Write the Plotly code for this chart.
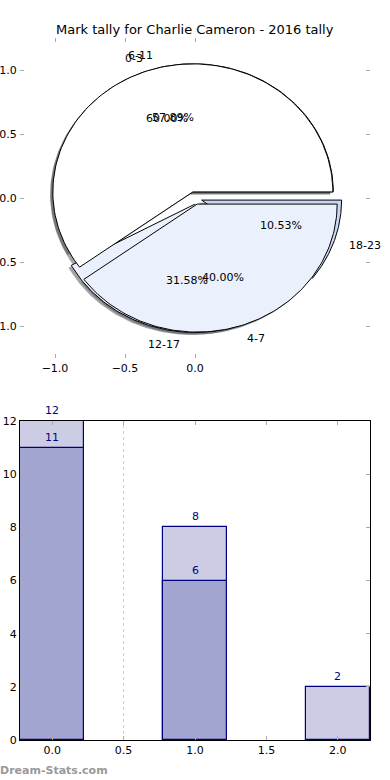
import numpy as np
import plotly.graph_objects as go

# ---------------- data ----------------
title_text = "Mark tally for Charlie Cameron - 2016 tally"
pie_a_labels = ["0-3", "4-7"]
pie_a_values = [12, 8]
pie_b_labels = ["6-11", "12-17", "18-23"]
pie_b_values = [11, 6, 2]
pie_a_colors = ["#ffffff", "#eaf0fc"]
pie_b_colors = ["#ffffff", "#eaf0fc", "#c8d8f4"]
explode = 0.05
pie_xticks = [-1.0, -0.5, 0.0]
pie_yticks = [-1.0, -0.5, 0.0, 0.5, 1.0]

bar_x = [0, 1, 2]
bar_light = [12, 8, 2]
bar_dark_x = [0, 1]
bar_dark = [11, 6]
bar_xticks = [0.0, 0.5, 1.0, 1.5, 2.0]
bar_yticks = [0, 2, 4, 6, 8, 10, 12]
ref_line_x = 0.5
watermark = "Dream-Stats.com"

W, H = 390, 780
FONT = "DejaVu Sans"


def hex_rgb(h):
    h = h.lstrip("#")
    return tuple(int(h[i:i + 2], 16) for i in (0, 2, 4))


def wedges(values):
    total = float(sum(values))
    out = []
    t = 0.0
    for v in values:
        frac = v / total
        t1, t2 = 360 * t, 360 * (t + frac)
        out.append((t1, t2, frac))
        t += frac
    return out


def wedge_poly(cx, cy, t1, t2, r=1.0):
    th = np.radians(np.linspace(t1, t2, 120))
    xs = np.concatenate([[cx], cx + r * np.cos(th), [cx]])
    ys = np.concatenate([[cy], cy + r * np.sin(th), [cy]])
    return xs, ys


fig = go.Figure()

pies = [(pie_b_values, pie_b_labels, pie_b_colors), (pie_a_values, pie_a_labels, pie_a_colors)]
geo = []
for vals, labs, cols in pies:
    for (t1, t2, frac), lab, col in zip(wedges(vals), labs, cols):
        tm = np.radians((t1 + t2) / 2)
        cx, cy = explode * np.cos(tm), explode * np.sin(tm)
        geo.append((cx, cy, t1, t2, tm, frac, lab, col))

# shadows first (below all wedges)
for cx, cy, t1, t2, tm, frac, lab, col in geo:
    xs, ys = wedge_poly(cx - 0.02, cy - 0.02, t1, t2)
    r, g, b = hex_rgb(col)
    fig.add_trace(go.Scatter(x=xs, y=ys, mode="lines", fill="toself",
                             fillcolor=f"rgba({int(0.3*r)},{int(0.3*g)},{int(0.3*b)},0.5)",
                             line=dict(width=0), hoverinfo="skip", showlegend=False,
                             xaxis="x", yaxis="y"))
for cx, cy, t1, t2, tm, frac, lab, col in geo:
    xs, ys = wedge_poly(cx, cy, t1, t2)
    fig.add_trace(go.Scatter(x=xs, y=ys, mode="lines", fill="toself", fillcolor=col,
                             line=dict(width=1, color="#000000"), hoverinfo="skip",
                             showlegend=False, xaxis="x", yaxis="y"))

annotations = []
for cx, cy, t1, t2, tm, frac, lab, col in geo:
    lx, ly = cx + 1.1 * np.cos(tm), cy + 1.1 * np.sin(tm)
    annotations.append(dict(x=lx, y=ly, xref="x", yref="y", text=lab, showarrow=False,
                            xanchor="right" if lx < 0 else "left", yanchor="middle",
                            font=dict(family=FONT, size=11, color="#000000")))
    px_, py_ = cx + 0.6 * np.cos(tm), cy + 0.6 * np.sin(tm)
    annotations.append(dict(x=px_, y=py_, xref="x", yref="y", text=f"{100*frac:.2f}%",
                            showarrow=False, xanchor="center", yanchor="middle",
                            font=dict(family=FONT, size=11, color="#000000")))

# ---------------- bars ----------------
fig.add_trace(go.Bar(x=bar_x, y=bar_light, width=0.45, marker=dict(color="#ccccE4",
                     line=dict(color="#000080", width=1.2)), xaxis="x2", yaxis="y2",
                     showlegend=False, hoverinfo="skip"))
fig.add_trace(go.Bar(x=bar_dark_x, y=bar_dark, width=0.45, marker=dict(color="#a3a5d1",
                     line=dict(color="#000080", width=1.2)), xaxis="x2", yaxis="y2",
                     showlegend=False, hoverinfo="skip"))
for xs_, ys_ in ((bar_x, bar_light), (bar_dark_x, bar_dark)):
    for xv, yv in zip(xs_, ys_):
        annotations.append(dict(x=xv, y=yv, xref="x2", yref="y2", text=str(yv), showarrow=False,
                                xanchor="center", yanchor="bottom", yshift=2,
                                font=dict(family=FONT, size=11, color="#000080")))

annotations.append(dict(x=0.5, y=1 - 30 / H, xref="paper", yref="paper", text=title_text,
                        showarrow=False, xanchor="center", yanchor="middle",
                        font=dict(family=FONT, size=13, color="#000000")))
annotations.append(dict(x=0, y=1 - 770 / H, xref="paper", yref="paper", text=f"<b>{watermark}</b>",
                        showarrow=False, xanchor="left", yanchor="middle", xshift=-2,
                        font=dict(family=FONT, size=11, color="#999999")))

tickfont = dict(family=FONT, size=11, color="#000000")
common = dict(ticks="inside", ticklen=4, tickcolor="#aaaaaa", showgrid=False, zeroline=False,
              tickfont=tickfont, fixedrange=True, automargin=False)

fig.update_layout(
    width=W, height=H, autosize=False,
    margin=dict(l=0, r=0, t=0, b=0, pad=0),
    paper_bgcolor="white", plot_bgcolor="rgba(0,0,0,0)",
    barmode="overlay", bargap=0,
    xaxis=dict(domain=[20 / W, 370 / W], range=[-1.25, 1.25], tickvals=pie_xticks,
               tickformat=".1f", showline=True, linecolor="rgba(0,0,0,0)", mirror="ticks",
               anchor="y", **common),
    yaxis=dict(domain=[(H - 358) / H, (H - 38) / H], range=[-1.25, 1.25], tickvals=pie_yticks,
               tickformat=".1f", showline=True, linecolor="rgba(0,0,0,0)", mirror="ticks",
               anchor="x", **common),
    xaxis2=dict(domain=[20 / W, 370 / W], range=[-0.225, 2.225], tickvals=bar_xticks,
                tickformat=".1f", showline=True, linecolor="#000000", linewidth=1, mirror="ticks",
                anchor="y2", **common),
    yaxis2=dict(domain=[(H - 740) / H, (H - 421) / H], range=[0, 12], tickvals=bar_yticks,
                showline=True, linecolor="#000000", linewidth=1, mirror="ticks",
                anchor="x2", **common),
    annotations=annotations,
)
fig.add_shape(type="line", x0=ref_line_x, x1=ref_line_x, y0=0, y1=1, xref="x2", yref="y2 domain",
              line=dict(color="#cccccc", width=1, dash="dot"), layer="below")

fig.write_html("out.html", config={"displayModeBar": False},
               post_script="document.body.style.margin='0';document.body.style.overflow='hidden';")
